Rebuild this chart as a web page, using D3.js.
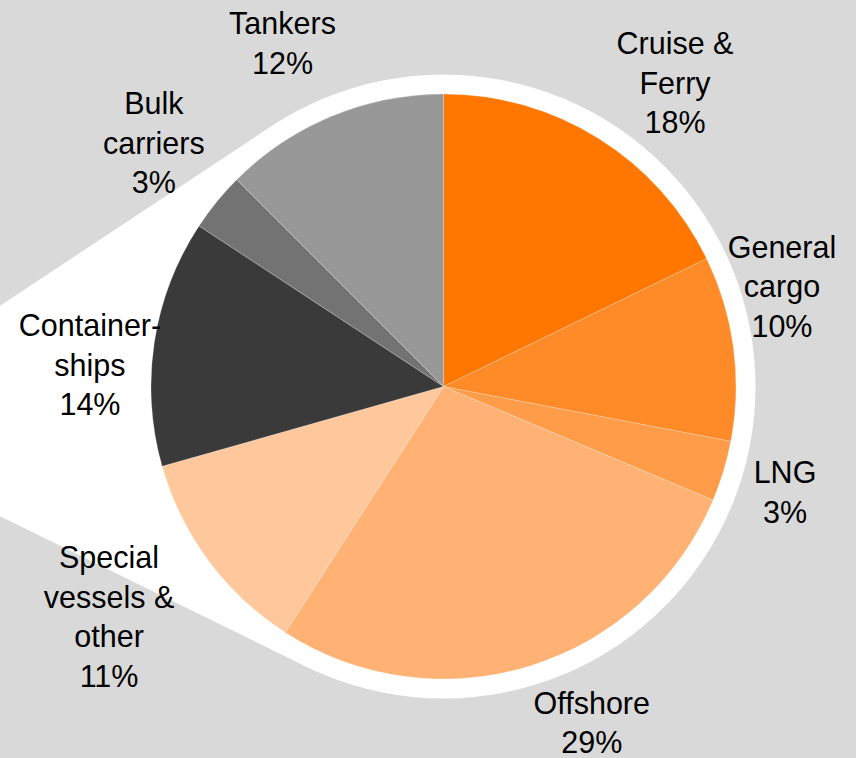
<!DOCTYPE html>
<html>
<head>
<meta charset="utf-8">
<script src="https://cdn.jsdelivr.net/npm/d3@7"></script>
<style>
  html, body { margin: 0; padding: 0; background: #d9d9d9; }
  svg { display: block; }
  text { font-family: "Liberation Sans", Arial, sans-serif; font-size: 30.5px; fill: #000; }
</style>
</head>
<body>
<svg id="chart" width="856" height="758"></svg>
<script>
// ---- data ----
const categories = ["Cruise & Ferry", "General cargo", "LNG", "Offshore", "Special vessels & other", "Containerships", "Bulk carriers", "Tankers"];
const shares = [17.8, 10.2, 3.35, 27.75, 11.5, 13.65, 3.25, 12.5];
const labelPercents = ["18%", "10%", "3%", "29%", "11%", "14%", "3%", "12%"];
const labelLines = [
  ["Cruise &", "Ferry"],
  ["General", "cargo"],
  ["LNG"],
  ["Offshore"],
  ["Special", "vessels &", "other"],
  ["Container-", "ships"],
  ["Bulk", "carriers"],
  ["Tankers"]
];
const colors = ["#ff7600", "#ff8a28", "#ff9c4a", "#ffb274", "#ffc89c", "#3a3a3a", "#737373", "#989898"];

// ---- layout ----
const W = 856, H = 758;
const cx = 443.5, cy = 386.5;
const R = 292.5;          // pie radius
const ringR = 312;        // white ring radius
const apex = [-182.6, 426.4]; // callout funnel apex (off-canvas left)
const labelAngleDeg = [37.3, 73.5, 107.2, 156.2, 235.5, 273.5, 310.1, 334.9];
const labelRadius = [382, 353, 357.5, 367.4, 405.8, 354.2, 378.7, 379.5];
const lineH = 39.5;

const svg = d3.select("#chart");
svg.append("rect").attr("width", W).attr("height", H).attr("fill", "#d9d9d9");

// white callout funnel tangent to ring
const dx = cx - apex[0], dy = cy - apex[1];
const d = Math.hypot(dx, dy);
const base = Math.atan2(dy, dx);
const half = Math.asin(ringR / d);
const L = Math.sqrt(d * d - ringR * ringR);
const t1 = [apex[0] + L * Math.cos(base - half), apex[1] + L * Math.sin(base - half)];
const t2 = [apex[0] + L * Math.cos(base + half), apex[1] + L * Math.sin(base + half)];
svg.append("path")
  .attr("d", d3.line()([apex, t1, [cx, cy], t2]) + "Z")
  .attr("fill", "#ffffff");
svg.append("circle").attr("cx", cx).attr("cy", cy).attr("r", ringR).attr("fill", "#ffffff");

// pie
const pie = d3.pie().sort(null).value(d => d.v);
const arcs = pie(shares.map((v, i) => ({ v, i })));
const arc = d3.arc().innerRadius(0).outerRadius(R);
const g = svg.append("g").attr("transform", `translate(${cx},${cy})`);
g.selectAll("path.slice")
  .data(arcs)
  .join("path")
  .attr("class", "slice")
  .attr("d", arc)
  .attr("fill", (d, i) => colors[i])
  .attr("stroke", "#ffffff")
  .attr("stroke-opacity", 0.35)
  .attr("stroke-width", 0.6);

// labels
const capHalf = 11;
categories.forEach((c, i) => {
  const a = labelAngleDeg[i] * Math.PI / 180;
  const lx = cx + labelRadius[i] * Math.sin(a);
  const ly = cy - labelRadius[i] * Math.cos(a);
  const lines = labelLines[i].concat([labelPercents[i]]);
  const n = lines.length;
  const t = svg.append("text").attr("text-anchor", "middle");
  lines.forEach((s, k) => {
    t.append("tspan")
      .attr("x", lx)
      .attr("y", ly + (k - (n - 1) / 2) * lineH + capHalf)
      .text(s);
  });
});
</script>
</body>
</html>
